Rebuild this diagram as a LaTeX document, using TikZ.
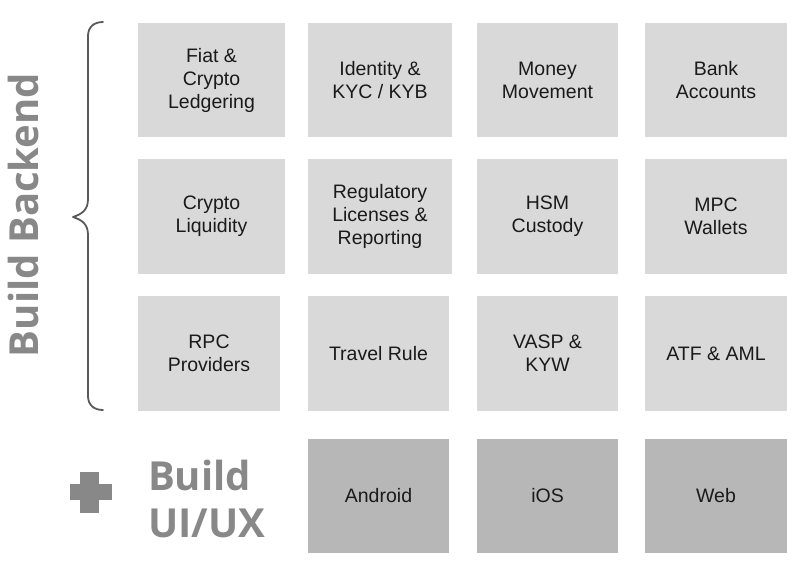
\documentclass[tikz,border=0pt]{standalone}
\usepackage{fontspec}
\setmainfont{Liberation Sans}
\newfontfamily\headfont{Open Sans}
\definecolor{lightbox}{HTML}{D9D9D9}
\definecolor{darkbox}{HTML}{B7B7B7}
\definecolor{headgray}{HTML}{888888}
\definecolor{bracegray}{HTML}{5A5A5A}
\definecolor{boxtext}{HTML}{1A1A1A}
\tikzset{
  tile/.style={rectangle, inner sep=0pt, outer sep=0pt, draw=none, align=center,
    text=boxtext, font=\fontsize{19.5}{23}\selectfont},
  lighttile/.style={tile, fill=lightbox},
  darktile/.style={tile, fill=darkbox},
  headtext/.style={text=headgray, inner sep=0pt, outer sep=0pt,
    font=\headfont\bfseries\fontsize{40}{47}\selectfont},
  bracestyle/.style={draw=bracegray, line width=1.8pt, line cap=round, line join=round},
}
\begin{document}
\begin{tikzpicture}[x=1pt, y=-1pt]
\useasboundingbox (0,0) rectangle (803,573);
\fill[white] (0,0) rectangle (803,573);
% row 1
\node[lighttile, minimum width=147pt, minimum height=114pt] (fiat) at (211.5,80) {Fiat \&\\Crypto\\Ledgering};
\node[lighttile, minimum width=144pt, minimum height=114pt] (ident) at (380,80) {Identity \&\\KYC / KYB};
\node[lighttile, minimum width=141pt, minimum height=114pt] (money) at (547.5,80) {Money\\Movement};
\node[lighttile, minimum width=142pt, minimum height=114pt] (bank) at (716,80) {Bank\\Accounts};
% row 2
\node[lighttile, minimum width=147pt, minimum height=115pt] (liq) at (211.5,216.5) {Crypto\\Liquidity};
\node[lighttile, minimum width=144pt, minimum height=115pt] (reg) at (380,216.5) {Regulatory\\Licenses \&\\Reporting};
\node[lighttile, minimum width=141pt, minimum height=115pt] (hsm) at (547.5,216.5) {HSM\\Custody};
\node[lighttile, minimum width=142pt, minimum height=115pt] (mpc) at (716,216.5) {MPC\\Wallets};
% row 3
\node[lighttile, minimum width=142pt, minimum height=115pt] (rpc) at (209,353.5) {RPC\\Providers};
\node[lighttile, minimum width=141pt, minimum height=115pt] (travel) at (378.5,353.5) {Travel Rule};
\node[lighttile, minimum width=141pt, minimum height=115pt] (vasp) at (547.5,353.5) {VASP \&\\KYW};
\node[lighttile, minimum width=142pt, minimum height=115pt] (atf) at (716,353.5) {ATF \& AML};
% row 4
\node[darktile, minimum width=141pt, minimum height=114pt] (android) at (378.5,496) {Android};
\node[darktile, minimum width=141pt, minimum height=114pt] (ios) at (547.5,496) {iOS};
\node[darktile, minimum width=142pt, minimum height=114pt] (web) at (716,496) {Web};
% brace
\draw[bracestyle] (103,22) .. controls (94,22) and (88,27) .. (88,36) -- (88,199)
  .. controls (88,210) and (82,214) .. (73,217)
  .. controls (82,220) and (88,224) .. (88,235) -- (88,396)
  .. controls (88,405) and (94,410) .. (103,410);
% vertical heading
\node[headtext, rotate=90, anchor=base] (backend) at (38,215) {Build Backend};
% plus sign
\fill[headgray] (69.5,484) rectangle (111.5,500);
\fill[headgray] (79.5,472) rectangle (98.5,513);
% UI/UX heading
\node[headtext, align=left, anchor=base west] (uiux) at (148,537) {Build\\UI/UX};
\end{tikzpicture}
\end{document}
